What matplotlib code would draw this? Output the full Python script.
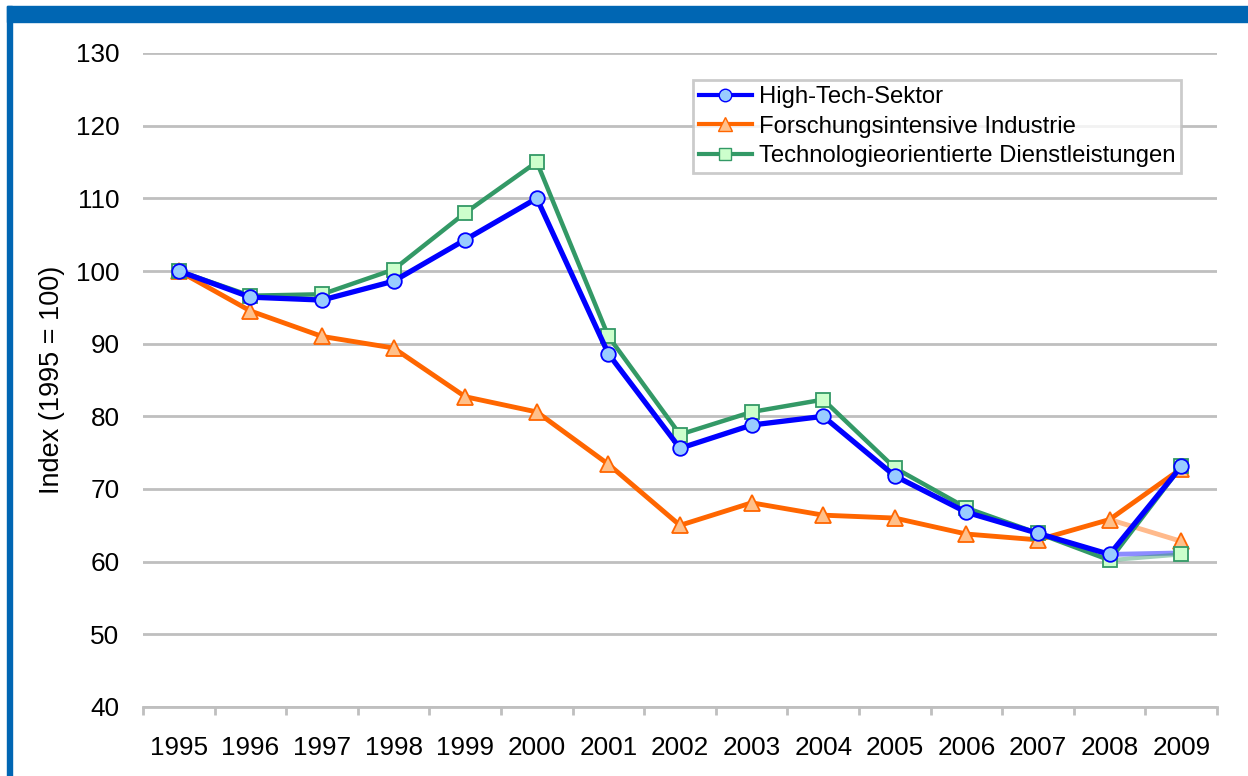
import matplotlib
matplotlib.use("Agg")
import matplotlib.pyplot as plt
from matplotlib.patches import Rectangle
from matplotlib.lines import Line2D

years = ["1995", "1996", "1997", "1998", "1999", "2000", "2001", "2002",
         "2003", "2004", "2005", "2006", "2007", "2008", "2009"]
high_tech = [100, 96.4, 96.0, 98.6, 104.3, 110.0, 88.6, 75.6, 78.8, 80.0,
             71.8, 66.8, 63.9, 61.0, 73.1]
forschung = [100, 94.5, 91.0, 89.4, 82.7, 80.6, 73.4, 65.0, 68.1, 66.4,
             66.0, 63.8, 63.0, 65.8, 72.8]
techdienst = [100, 96.6, 96.8, 100.2, 108.0, 115.0, 91.0, 77.5, 80.6, 82.3,
              72.9, 67.4, 63.9, 60.2, 73.1]
# alternative (faded) 2009 values
high_tech_alt2009 = 61.2
forschung_alt2009 = 62.8
techdienst_alt2009 = 61.0

labels = ["High-Tech-Sektor", "Forschungsintensive Industrie",
          "Technologieorientierte Dienstleistungen"]

plt.rcParams['font.family'] = ['Liberation Sans', 'DejaVu Sans']

W, H = 1248, 776
fig = plt.figure(figsize=(W / 100, H / 100), dpi=100)
ax = fig.add_axes([143 / W, 1 - 707 / H, (1217 - 143) / W, (707 - 53) / H])

x = list(range(len(years)))
blue, blue_f = "#0000FF", "#99CCFF"
orange, orange_f = "#FF6600", "#FFC08A"
green, green_f = "#339966", "#CCFFCC"

# faded alternative segments
ax.plot([x[-2], x[-1]], [forschung[-2], forschung_alt2009], color=orange, alpha=0.45,
        lw=3.5, zorder=2)
ax.plot([x[-1]], [forschung_alt2009], marker='^', ms=12, mfc=orange_f, mec=orange,
        mew=1.3, ls='none', zorder=2)
ax.plot([x[-2], x[-1]], [high_tech[-2], high_tech_alt2009], color=blue, alpha=0.45,
        lw=3.5, zorder=2)
ax.plot([x[-2], x[-1]], [techdienst[-2], techdienst_alt2009], color=green, alpha=0.45,
        lw=3, zorder=2)
ax.plot([x[-1]], [techdienst_alt2009], marker='s', ms=10, mfc=green_f, mec=green,
        mew=1.3, ls='none', zorder=2)

ax.plot(x, forschung, color=orange, lw=3.5, marker='^', ms=12, mfc=orange_f,
        mec=orange, mew=1.3, zorder=3)
ax.plot(x, techdienst, color=green, lw=3.2, marker='s', ms=10, mfc=green_f,
        mec=green, mew=1.3, zorder=4)
ax.plot(x, high_tech, color=blue, lw=3.8, marker='o', ms=10.5, mfc=blue_f,
        mec=blue, mew=1.3, zorder=5)

ax.set_xlim(-0.5, len(years) - 0.5)
ax.set_ylim(40, 130)
ax.set_yticks(range(40, 131, 10))
ax.yaxis.grid(True, color="#BFBFBF", lw=2)
ax.set_axisbelow(True)
for s in ["top", "right", "left"]:
    ax.spines[s].set_visible(False)
ax.spines["bottom"].set_color("#BFBFBF")
ax.spines["bottom"].set_linewidth(2)

ax.set_xticks(x)
ax.set_xticklabels(years)
ax.set_xticks([i - 0.5 for i in range(len(years) + 1)], minor=True)
ax.tick_params(axis='x', which='major', length=0, pad=21, labelsize=18.8)
ax.tick_params(axis='x', which='minor', length=6, width=2, color="#BFBFBF", direction='out')
ax.tick_params(axis='y', length=0, pad=17, labelsize=18.8)
ax.set_ylabel("Index (1995 = 100)", fontsize=19.5, labelpad=8)

handles = [Line2D([], [], color=blue, lw=3, marker='o', ms=9, mfc=blue_f, mec=blue),
           Line2D([], [], color=orange, lw=3, marker='^', ms=10, mfc=orange_f, mec=orange),
           Line2D([], [], color=green, lw=3, marker='s', ms=8.5, mfc=green_f, mec=green)]
leg = fig.legend(handles, labels, loc='upper left', bbox_to_anchor=(693 / W, 1 - 80 / H),
                 fontsize=17.2, frameon=True, fancybox=False, edgecolor="#BFBFBF",
                 handlelength=2.2, handletextpad=0.3, labelspacing=0.32,
                 borderpad=0.25, borderaxespad=0)
leg.get_frame().set_linewidth(2)

# blue frame
fig.patches.append(Rectangle((7 / W, 1 - 22 / H), 1 - 7 / W, 16 / H,
                             transform=fig.transFigure, color="#0066B3", zorder=10))
fig.patches.append(Rectangle((7 / W, 0), 5 / W, 1 - 6 / H,
                             transform=fig.transFigure, color="#0066B3", zorder=10))

fig.savefig("out.png", dpi=100)
